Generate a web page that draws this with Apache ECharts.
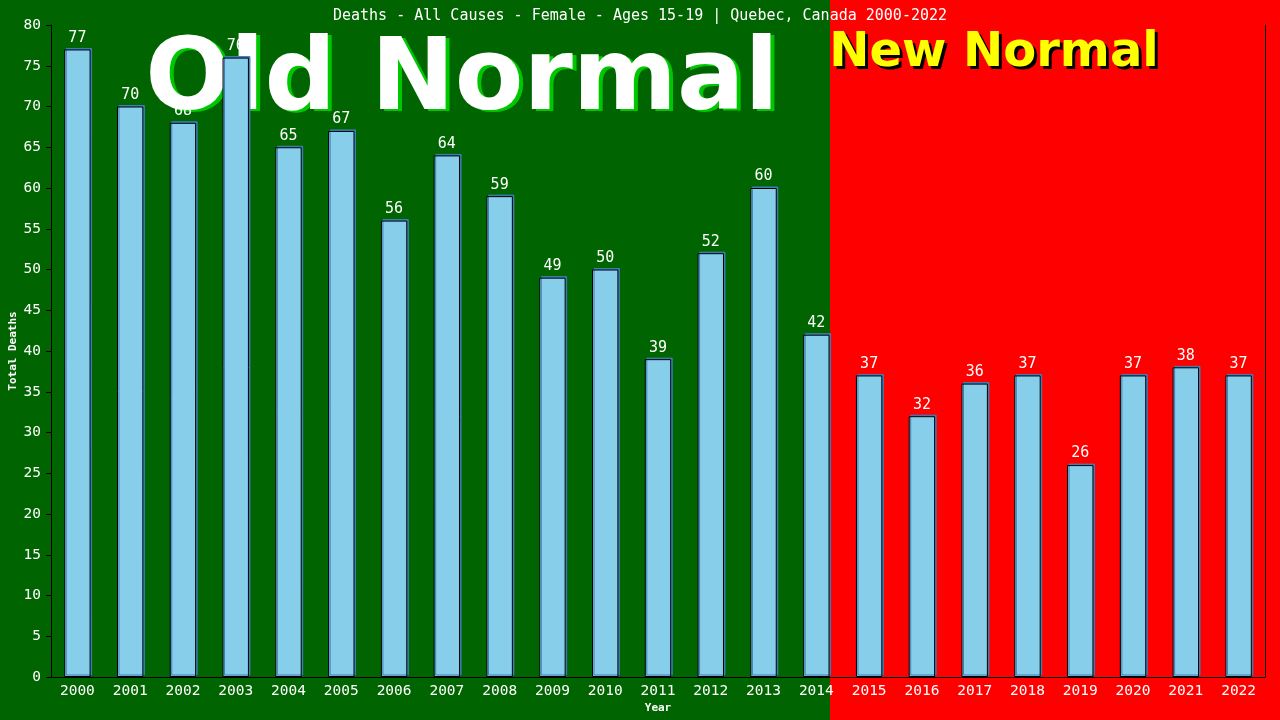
<!DOCTYPE html>
<html lang="en">
<head>
	<meta charset="UTF-8">
	<script src="https://cdn.jsdelivr.net/npm/echarts@6/dist/echarts.min.js"></script>
	<title>Deaths - Female 15-19 Quebec</title>
	<style>
		html, body { margin: 0; padding: 0; background: #ff0000; }
	</style>
</head>
<body>
<div id="chart" style="width:1280px;height:720px;"></div>
<script type="text/javascript">
	// data
	var years = ['2000','2001','2002','2003','2004','2005','2006','2007','2008','2009','2010','2011',
		'2012','2013','2014','2015','2016','2017','2018','2019','2020','2021','2022'];
	var deaths = [77, 70, 68, 76, 65, 67, 56, 64, 59, 49, 50, 39, 52, 60, 42, 37, 32, 36, 37, 26, 37, 38, 37];
	var titleText = 'Deaths - All Causes - Female - Ages 15-19 | Quebec, Canada 2000-2022';

	var mono = '"DejaVu Sans Mono", monospace';
	var chart = echarts.init(document.getElementById('chart'));

	var option = {
		animation: false,
		backgroundColor: '#ff0000',
		title: {
			text: titleText,
			left: 'center',
			top: 4,
			textStyle: { color: '#ffffff', fontFamily: mono, fontSize: 15, fontWeight: 'normal' }
		},
		grid: { left: 51, right: 15, top: 25, bottom: 43, containLabel: false, outerBoundsMode: 'none' },
		xAxis: {
			type: 'category',
			data: years,
			name: 'Year',
			nameLocation: 'middle',
			nameGap: 26,
			nameMoveOverlap: false,
			nameTextStyle: { color: '#ffffff', fontFamily: mono, fontSize: 11, fontWeight: 'bold' },
			axisLine: { lineStyle: { color: '#000000', width: 1 } },
			axisTick: { show: false },
			axisLabel: { color: '#ffffff', fontFamily: mono, fontSize: 14.5, margin: 7 }
		},
		yAxis: [{
			type: 'value',
			min: 0,
			max: 80,
			interval: 5,
			name: 'Total Deaths',
			nameLocation: 'middle',
			nameGap: 38,
			nameMoveOverlap: false,
			nameTextStyle: { color: '#ffffff', fontFamily: mono, fontSize: 11, fontWeight: 'bold', verticalAlign: 'middle' },
			axisLine: { show: true, lineStyle: { color: '#000000', width: 1 } },
			axisTick: { show: true, length: 5, lineStyle: { color: '#000000' } },
			axisLabel: { color: '#ffffff', fontFamily: mono, fontSize: 14.5, margin: 10 },
			splitLine: { show: false }
		}, {
			type: 'value',
			position: 'right',
			min: 0,
			max: 80,
			axisLine: { show: true, lineStyle: { color: '#000000', width: 1 } },
			axisTick: { show: false },
			axisLabel: { show: false },
			splitLine: { show: false }
		}],
		series: [{
			type: 'bar',
			data: deaths,
			barWidth: '50%',
			itemStyle: {
				color: '#87ceeb',
				borderColor: '#000000',
				borderWidth: 1,
				shadowColor: '#3d7fb8',
				shadowBlur: 0,
				shadowOffsetX: 1.5,
				shadowOffsetY: -1.5
			},
			label: {
				show: true,
				position: 'top',
				distance: 4,
				color: '#ffffff',
				fontFamily: mono,
				fontSize: 15
			},
			z: 3
		}],
		graphic: [
			{ type: 'rect', shape: { x: 0, y: 0, width: 830, height: 720 }, style: { fill: '#006400' }, z: -10, silent: true },
			{ type: 'text', x: 466, y: 85, z: 2, style: { text: 'Old Normal', fill: '#00c800', font: 'bold 100px "DejaVu Sans"', textAlign: 'center', textVerticalAlign: 'middle' } },
			{ type: 'text', x: 462, y: 83, z: 2, style: { text: 'Old Normal', fill: '#ffffff', font: 'bold 100px "DejaVu Sans"', textAlign: 'center', textVerticalAlign: 'middle' } },
			{ type: 'text', x: 997, y: 57, z: 2, style: { text: 'New Normal', fill: '#000000', font: 'bold 48px "DejaVu Sans"', textAlign: 'center', textVerticalAlign: 'middle' } },
			{ type: 'text', x: 994, y: 54, z: 2, style: { text: 'New Normal', fill: '#ffff00', font: 'bold 48px "DejaVu Sans"', textAlign: 'center', textVerticalAlign: 'middle' } }
		]
	};
	chart.setOption(option);
</script>
</body>
</html>
